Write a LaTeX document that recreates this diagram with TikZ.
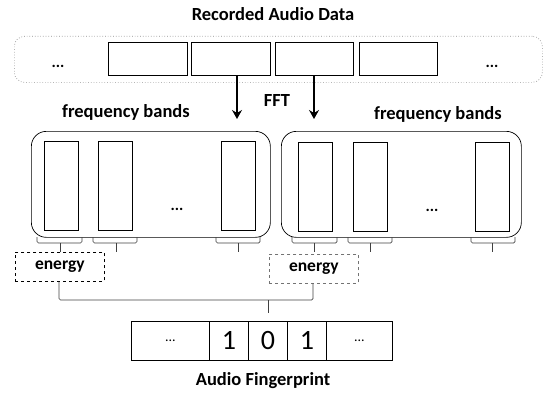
\documentclass[tikz,border=0pt]{standalone}
\usepackage{fontspec}
\setmainfont{Carlito}
\usetikzlibrary{arrows.meta}
\tikzset{
  lbl/.style={font=\fontsize{18.5}{22}\selectfont\bfseries, inner sep=0pt},
  dots/.style={font=\fontsize{16}{18}\selectfont\bfseries, inner sep=0pt},
  frame/.style={draw, line width=1.3pt, inner sep=0pt, anchor=north west},
  band/.style={draw, line width=1.3pt, inner sep=0pt, anchor=north west, minimum width=34pt, minimum height=89pt},
  group/.style={draw, line width=0.7pt, rounded corners=15pt, inner sep=0pt, anchor=north west},
  ebox/.style={draw, dashed, line width=0.7pt, inner sep=0pt, anchor=north west, minimum width=89pt, minimum height=29pt, font=\fontsize{17.5}{21}\selectfont\bfseries},
  brc/.style={draw=black!75, line width=0.7pt, rounded corners=1.5pt},
  fftarrow/.style={line width=1.6pt, -{Stealth[length=9pt,width=10pt,inset=3pt]}},
  cell/.style={draw, line width=0.8pt, inner sep=0pt, anchor=north west, minimum height=39pt, font=\fontsize{28}{32}\selectfont}
}
\begin{document}
\begin{tikzpicture}[x=1pt,y=-1pt]
\useasboundingbox (0,0) rectangle (546,396);
% title
\node[lbl] (title) at (273,14) {Recorded Audio Data};
% dotted container
\node[draw=black!45, dotted, line width=0.7pt, rounded corners=10pt, inner sep=0pt, anchor=north west, minimum width=528pt, minimum height=46pt] (audio) at (14,36) {};
\node[dots] (ad1) at (58,66) {...};
\node[dots] (ad2) at (492,66) {...};
\node[frame, minimum width=79pt, minimum height=33pt] (f1) at (108,42) {};
\node[frame, minimum width=79pt, minimum height=33pt] (f2) at (191,42) {};
\node[frame, minimum width=78pt, minimum height=33pt] (f3) at (275,42) {};
\node[frame, minimum width=78pt, minimum height=33pt] (f4) at (359,42) {};
% arrows
\coordinate (a1) at (237,119);
\coordinate (a2) at (314,119);
\draw[fftarrow] (f2.south -| a1) -- (a1);
\draw[fftarrow] (f3.south -| a2) -- (a2);
\node[lbl] (fft) at (277,101) {FFT};
\node[lbl] (fbl) at (126,112) {frequency bands};
\node[lbl] (fbr) at (438,114) {frequency bands};
% groups
\node[group, minimum width=239pt, minimum height=106pt] (gl) at (31,131) {};
\node[group, minimum width=240pt, minimum height=106pt] (gr) at (281,131) {};
\node[band] (l1) at (44,141) {};
\node[band] (l2) at (98,141) {};
\node[band] (l3) at (221,141) {};
\node[dots] (ld) at (177,209) {...};
\node[band] (r1) at (298,142) {};
\node[band] (r2) at (353,142) {};
\node[band] (r3) at (475,142) {};
\node[dots] (rd) at (432,210) {...};
% small braces
\foreach \a/\m/\b in {37/60/82, 93/116/137, 216/238/260, 292/314/337, 348/370/392, 471/492/515}{
  \draw[brc] (\a,237) |- (\m,243) -| (\b,237);
  \draw[brc] (\m,243) -- (\m,252);
}
% energy boxes
\node[ebox] (el) at (15,252) {energy};
\node[ebox, draw=black!55] (er) at (269,254) {energy};
% big brace
\coordinate (tip) at (268,313);
\draw[brc] (el.south -| 59,0) |- (268,300) -| (er.south -| 313,0);
\draw[brc] (268,300) -- (tip);
% fingerprint
\node[cell, minimum width=78pt] (c1) at (131,321) {\fontsize{14}{16}\selectfont ...};
\node[cell, minimum width=39pt] (c2) at (209,321) {1};
\node[cell, minimum width=39pt] (c3) at (248,321) {0};
\node[cell, minimum width=39pt] (c4) at (287,321) {1};
\node[cell, minimum width=66pt] (c5) at (326,321) {\fontsize{14}{16}\selectfont ...};
\node[lbl] (fp) at (263,381) {Audio Fingerprint};
\end{tikzpicture}
\end{document}
